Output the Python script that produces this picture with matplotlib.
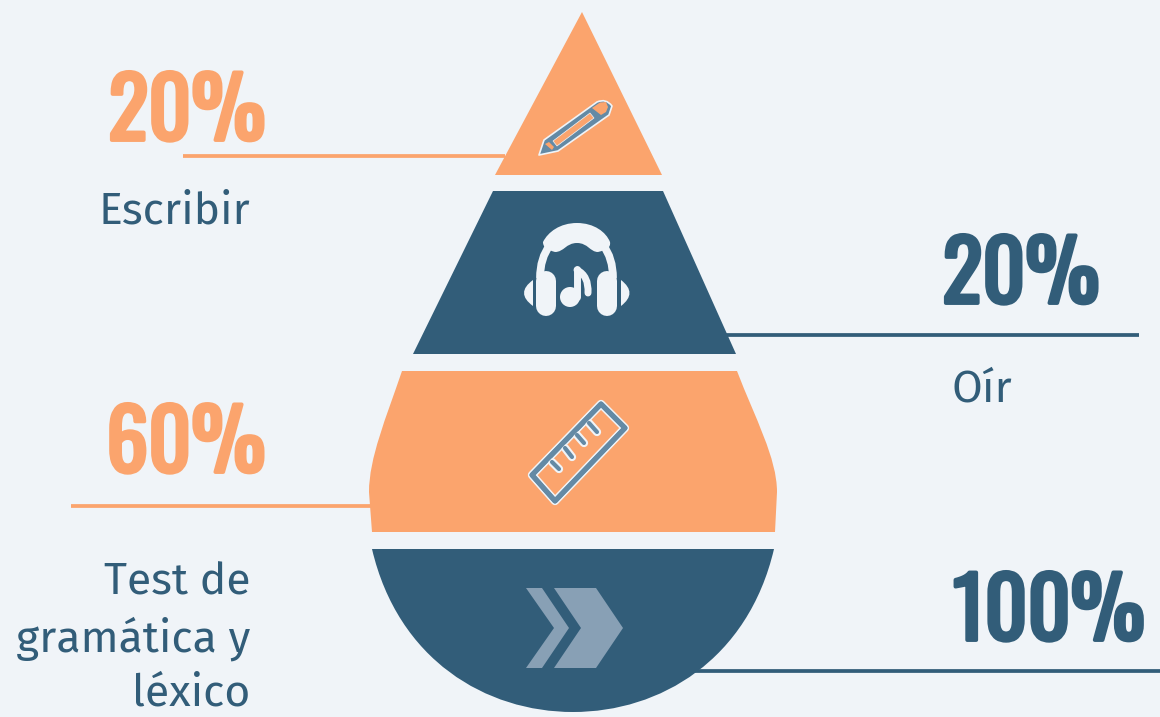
import matplotlib
matplotlib.use('Agg')
import matplotlib.pyplot as plt
import matplotlib.patheffects as pe
from matplotlib.patches import PathPatch, Polygon, Ellipse
from matplotlib.path import Path

BG = '#f0f4f8'
ORANGE = '#fba46d'
BLUE = '#325d79'
ICON = '#648aa5'

pct_labels = ['20%', '20%', '60%', '100%']
pct_colors = [ORANGE, BLUE, ORANGE, BLUE]
pct_pos = [(187, 140), (1021, 303), (186, 472), (1049, 640)]
names = ['Escribir', 'Oír', 'Test de\ngramática y\nléxico']
name_pos = [(250, 224), (1012, 402), (250, 638)]

fig = plt.figure(figsize=(11.6, 7.17), dpi=100, facecolor=BG)
ax = fig.add_axes([0, 0, 1, 1])
ax.set_xlim(0, 1160)
ax.set_ylim(717, 0)
ax.axis('off')

# leader lines
ax.plot([183, 505], [156, 156], color=ORANGE, lw=2.7, solid_capstyle='butt', zorder=1)
ax.plot([725, 1139], [335, 335], color=BLUE, lw=2.7, solid_capstyle='butt', zorder=1)
ax.plot([71, 372], [506, 506], color=ORANGE, lw=2.7, solid_capstyle='butt', zorder=1)
ax.plot([695, 1160], [671, 671], color=BLUE, lw=2.7, solid_capstyle='butt', zorder=1)

# drop slices
ax.add_patch(Polygon([(582, 12), (662, 175), (495, 175)], fc=ORANGE, ec='none', zorder=2))
ax.add_patch(Polygon([(493, 191), (663, 191), (736, 354), (413, 354)], fc=BLUE, ec='none', zorder=2))

verts = [(402, 371), (737, 371), (755, 418), (777, 458), (777, 492), (775, 532),
         (372, 532), (369, 492), (369, 458), (386, 418), (402, 371), (402, 371)]
codes = [Path.MOVETO, Path.LINETO, Path.CURVE4, Path.CURVE4, Path.CURVE4, Path.LINETO,
         Path.LINETO, Path.LINETO, Path.CURVE4, Path.CURVE4, Path.CURVE4, Path.CLOSEPOLY]
ax.add_patch(PathPatch(Path(verts, codes), fc=ORANGE, ec='none', zorder=2))

verts = [(372, 549), (774, 549), (748, 660), (660, 712), (573, 712), (486, 712), (398, 660), (372, 549), (372, 549)]
codes = [Path.MOVETO, Path.LINETO, Path.CURVE4, Path.CURVE4, Path.CURVE4, Path.CURVE4, Path.CURVE4, Path.CURVE4, Path.CLOSEPOLY]
ax.add_patch(PathPatch(Path(verts, codes), fc=BLUE, ec='none', zorder=2))

# pencil
verts = [(539, 155), (544, 140), (597, 102), (606, 98), (612, 106), (609, 115), (558, 151), (539, 155), (539, 155)]
codes = [Path.MOVETO, Path.LINETO, Path.LINETO, Path.CURVE3, Path.CURVE3, Path.LINETO, Path.LINETO, Path.LINETO, Path.CLOSEPOLY]
ax.add_patch(PathPatch(Path(verts, codes), fc=ICON, ec=BG, lw=1.2, joinstyle='round', zorder=3))
ax.add_patch(Polygon([(553, 141), (590, 113), (594, 118), (557, 146)], fc=ORANGE, ec=BG, lw=0.5, zorder=4))
ax.add_patch(Polygon([(592, 108), (600, 102.5), (606, 102), (608, 107), (606, 112), (601, 115)], fc=ORANGE, ec='none', zorder=4))
ax.add_patch(Polygon([(545, 144), (549, 142), (554, 147), (552, 150)], fc=ORANGE, ec='none', zorder=4))

# headphones
verts = [(543, 242), (548, 232), (560, 223), (577, 223), (594, 223), (606, 232), (610, 242), (611, 248), (606, 250),
         (598, 252), (590, 252), (588, 243), (577, 243), (566, 243), (564, 252), (555, 252), (548, 250), (543, 248), (543, 242), (543, 242)]
codes = [Path.MOVETO] + [Path.CURVE4] * 18 + [Path.CLOSEPOLY]
ax.add_patch(PathPatch(Path(verts, codes), fc=BG, ec='none', zorder=3))
ax.add_patch(PathPatch(Path([(540, 278), (540, 258), (550, 245)], [Path.MOVETO, Path.CURVE3, Path.CURVE3]),
                       fc='none', ec=BG, lw=5.6, zorder=3))
ax.add_patch(PathPatch(Path([(613, 278), (613, 258), (603, 245)], [Path.MOVETO, Path.CURVE3, Path.CURVE3]),
                       fc='none', ec=BG, lw=5.6, zorder=3))
ax.plot([546, 546], [281, 306], color=BG, lw=14.4, solid_capstyle='round', zorder=3)
ax.plot([607, 607], [281, 306], color=BG, lw=14.4, solid_capstyle='round', zorder=3)
ax.add_patch(PathPatch(Path([(533, 280), (515, 293), (533, 306), (533, 280)],
                            [Path.MOVETO, Path.CURVE3, Path.CURVE3, Path.CLOSEPOLY]), fc=BG, ec='none', zorder=3))
ax.add_patch(PathPatch(Path([(621, 280), (638, 293), (621, 306), (621, 280)],
                            [Path.MOVETO, Path.CURVE3, Path.CURVE3, Path.CLOSEPOLY]), fc=BG, ec='none', zorder=3))
ax.add_patch(Ellipse((570, 297), 20, 20, fc=BG, ec='none', zorder=3))
ax.plot([577, 577], [269, 297], color=BG, lw=5, solid_capstyle='round', zorder=3)
ax.add_patch(PathPatch(Path([(577, 270), (589, 276), (588, 293)], [Path.MOVETO, Path.CURVE3, Path.CURVE3]),
                       fc='none', ec=BG, lw=5, capstyle='round', zorder=3))

# ruler
ruler_halo = [pe.withStroke(linewidth=6, foreground=BG)]
ax.add_patch(Polygon([(601, 404), (625, 428), (555, 501), (532, 475)], closed=True, fc='none', ec=ICON, lw=3.6,
                     joinstyle='round', zorder=3, path_effects=ruler_halo))
for xs, ys in [([552, 559], [462, 469]), ([565, 572], [448, 457]), ([577, 584], [435, 443]), ([589, 597], [423, 432])]:
    ax.plot(xs, ys, color=ICON, lw=3, solid_capstyle='round', zorder=3, path_effects=ruler_halo)
ax.add_patch(Polygon([(601, 404), (625, 428), (555, 501), (532, 475)], closed=True, fc='none', ec=ICON, lw=3.6,
                     joinstyle='round', zorder=4))

# chevrons
ax.add_patch(Polygon([(526, 588), (542, 588), (569, 628), (542, 668), (526, 668), (554, 628)], fc='#88a0b5', ec='none', zorder=3))
ax.add_patch(Polygon([(554, 588), (596, 588), (623, 628), (596, 668), (554, 668), (581, 628)], fc='#88a0b5', ec='none', zorder=3))

for s, c, (x, y) in zip(pct_labels, pct_colors, pct_pos):
    ax.text(x, y, s, color=c, fontsize=60, fontweight='bold', family=['Oswald', 'Anton', 'Liberation Sans'],
            ha='center', va='baseline', zorder=5,
            path_effects=[pe.withStroke(linewidth=2.8, foreground=c)])

for s, (x, y) in zip(names, name_pos):
    ax.text(x, y, s, color=BLUE, fontsize=32, fontweight='normal', family=['Fira Sans', 'Lato', 'DejaVu Sans'],
            ha='right', va='center' if '\n' in s else 'baseline', linespacing=1.34, zorder=5)

fig.savefig('out.png', dpi=100, facecolor=BG)
